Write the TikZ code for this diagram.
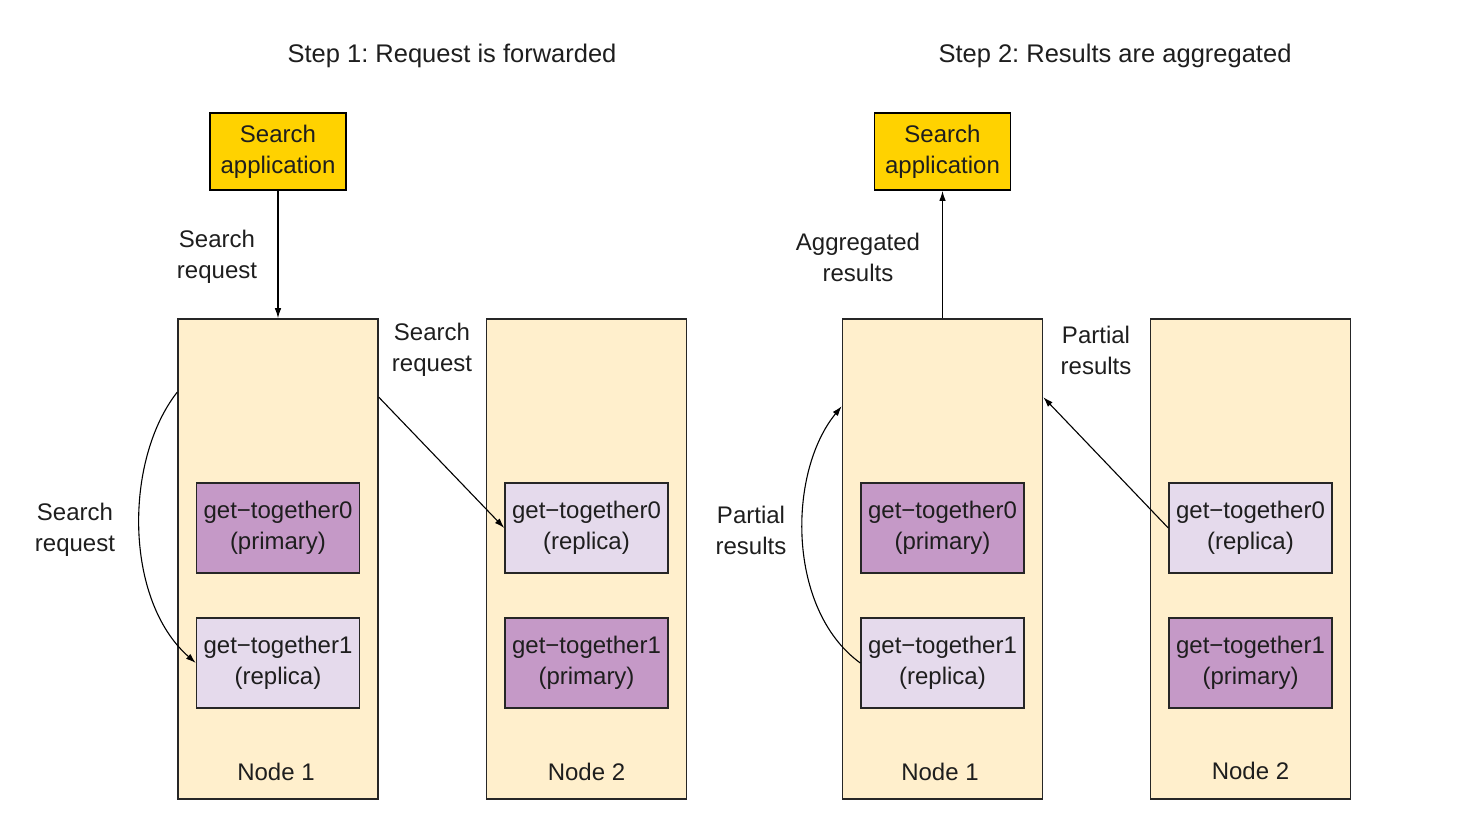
\documentclass[tikz,border=0pt]{standalone}
\usepackage{fontspec}
\setmainfont{Liberation Sans}
\frenchspacing
\usetikzlibrary{arrows.meta}
\definecolor{appgold}{RGB}{255,210,0}
\definecolor{nodecream}{RGB}{255,239,204}
\definecolor{shardprim}{RGB}{197,153,199}
\definecolor{shardrepl}{RGB}{229,218,236}
\definecolor{inktext}{RGB}{30,30,30}
\begin{document}
\begin{tikzpicture}[x=1pt,y=-1pt,
  every node/.style={font=\fontsize{24}{31}\selectfont, text=inktext, align=center, inner sep=0pt},
  title/.style={font=\fontsize{25.5}{31}\selectfont},
  appbox/.style={draw=black, line width=1.8pt, fill=appgold, minimum width=136pt, minimum height=77pt},
  esnode/.style={draw=black!85, line width=1.6pt, fill=nodecream, minimum width=200pt, minimum height=480pt},
  primshard/.style={draw=black!85, line width=1.4pt, fill=shardprim, minimum width=163pt, minimum height=90pt},
  replshard/.style={draw=black!85, line width=1.4pt, fill=shardrepl, minimum width=163pt, minimum height=90pt},
  flow/.style={draw=black, line width=1.1pt, -{Latex[length=10pt,width=6.5pt]}},
  lbl/.style={}
]
\useasboundingbox (0,0) rectangle (1460,822);

% ---- Step 1 ----
\node[title] (t1) at (452,56) {Step 1: Request is forwarded};
\node[appbox] (appL) at (278,151.5) {Search\\application};
\node[esnode] (n1L) at (278,559) {};
\node[esnode] (n2L) at (586.5,559) {};
\node (n1Llab) at (276,772) {Node 1};
\node (n2Llab) at (586.5,772) {Node 2};
\node[primshard] (s0L1) at (278,528) {get−together0\\(primary)};
\node[replshard] (s1L1) at (278,663) {get−together1\\(replica)};
\node[replshard] (s0L2) at (586.5,528) {get−together0\\(replica)};
\node[primshard] (s1L2) at (586.5,663) {get−together1\\(primary)};

\node[lbl] (reqA) at (217,257) {Search\\request};
\node[lbl] (reqB) at (432,350) {Search\\request};
\node[lbl] (reqC) at (75,530) {Search\\request};

\draw[flow] (appL.south) -- (n1L.north);
\draw[flow] ([yshift=-79pt]n1L.north east) -- (s0L2.west);
\draw[flow] ([yshift=-74pt]n1L.north west) .. controls (124,460) and (124,600) .. (s1L1.west);

% ---- Step 2 ----
\node[title] (t2) at (1115,56) {Step 2: Results are aggregated};
\node[appbox] (appR) at (942.5,151.5) {Search\\application};
\node[esnode] (n1R) at (942.5,559) {};
\node[esnode] (n2R) at (1250.5,559) {};
\node (n1Rlab) at (940,772) {Node 1};
\node (n2Rlab) at (1250.5,771) {Node 2};
\node[primshard] (s0R1) at (942.5,528) {get−together0\\(primary)};
\node[replshard] (s1R1) at (942.5,663) {get−together1\\(replica)};
\node[replshard] (s0R2) at (1250.5,528) {get−together0\\(replica)};
\node[primshard] (s1R2) at (1250.5,663) {get−together1\\(primary)};

\node[lbl] (aggr) at (858,257) {Aggregated\\results};
\node[lbl] (partA) at (1096,350) {Partial\\results};
\node[lbl] (partB) at (751,530) {Partial\\results};

\draw[flow] (n1R.north) -- (appR.south);
\draw[flow] (s0R2.west) -- ([yshift=-79pt]n1R.north east);
\draw[flow] (s1R1.west) .. controls (787,610) and (787,473) .. ([yshift=-88pt]n1R.north west);
\end{tikzpicture}
\end{document}
